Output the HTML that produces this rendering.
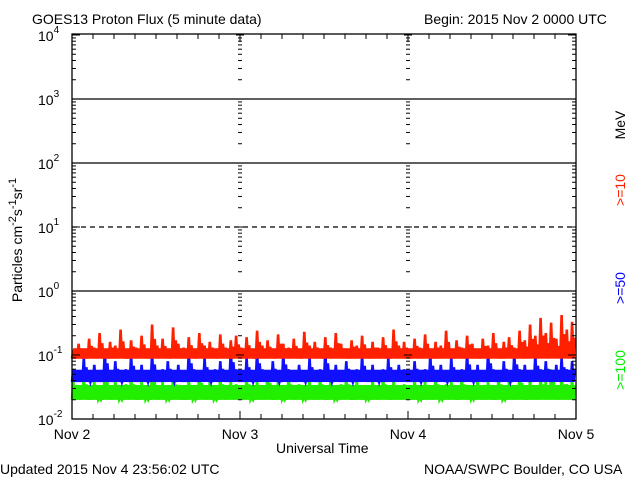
<!DOCTYPE html>
<html><head><meta charset="utf-8"><style>
body{margin:0;background:#fff}
svg{display:block}
text{font-family:"Liberation Sans",sans-serif;font-size:14px;fill:#000}
</style></head><body>
<svg id="c" width="640" height="480">
<rect width="640" height="480" fill="#fff"/>
<text x="32" y="24" font-size="15">GOES13 Proton Flux (5 minute data)</text>
<text x="424" y="24" font-size="14">Begin: 2015 Nov 2 0000 UTC</text>
<text x="0" y="474" font-size="15">Updated 2015 Nov  4 23:56:02 UTC</text>
<text x="424" y="474" font-size="14">NOAA/SWPC Boulder, CO USA</text>
<text x="276" y="453" font-size="13">Universal Time</text>
<text transform="translate(22,240) rotate(-90)" text-anchor="middle" font-size="17">Particles cm<tspan font-size="11" dy="-6">-2</tspan><tspan dy="6">s</tspan><tspan font-size="11" dy="-6">-1</tspan><tspan dy="6">sr</tspan><tspan font-size="11" dy="-6">-1</tspan></text>
<text transform="translate(625,125) rotate(-90)" text-anchor="middle" font-size="15">MeV</text>
<text transform="translate(625,190) rotate(-90)" text-anchor="middle" font-size="17" style="fill:#ff2000">&gt;=10</text>
<text transform="translate(625,288) rotate(-90)" text-anchor="middle" font-size="17" style="fill:#0000ff">&gt;=50</text>
<text transform="translate(625,370) rotate(-90)" text-anchor="middle" font-size="17" style="fill:#00ee00">&gt;=100</text>
<g id="g"></g>
</svg>
<script>
const dayLabels=["Nov 2","Nov 3","Nov 4","Nov 5"];
const decades=[-2,-1,0,1,2,3,4];
const red=[.12,.15,.11,.18,.13,.22,.12,.16,.14,.25,.11,.17,.13,.20,.12,.30,.14,.18,.12,.27,.15,.13,.19,.12,.22,.14,.16,.12,.21,.13,.17,.20,
.13,.19,.12,.24,.14,.17,.12,.21,.15,.13,.18,.12,.23,.14,.16,.12,.19,.13,.22,.15,.12,.17,.14,.20,.12,.16,.13,.19,.12,.25,.14,.16,
.12,.18,.13,.21,.12,.16,.14,.24,.12,.17,.13,.20,.15,.12,.18,.14,.22,.12,.16,.19,.13,.24,.17,.30,.20,.38,.22,.32,.18,.42,.25,.33];
const blue=[.06,.05,.09,.045,.07,.05,.12,.05,.08,.045,.06,.10,.05,.07,.045,.11,.05,.06,.08,.045,.07,.05,.12,.06,.05,.09,.045,.06,.08,.05,.13,.06,
.05,.09,.045,.12,.06,.05,.08,.045,.11,.06,.05,.07,.045,.09,.05,.06,.12,.045,.07,.05,.08,.045,.06,.10,.05,.07,.045,.06,.09,.05,.07,.06,
.05,.08,.045,.06,.10,.05,.07,.045,.09,.05,.06,.11,.045,.07,.05,.12,.06,.05,.08,.045,.11,.06,.07,.05,.10,.06,.08,.05,.07,.09,.06,.08];
const green=[.04,.03,.05,.025,.04,.022,.06,.03,.045,.022,.035,.05,.025,.04,.022,.06,.03,.04,.022,.05,.03,.025,.045,.022,.055,.03,.04,.022,.05,.03,.04,.035,
.03,.05,.022,.04,.03,.055,.025,.04,.022,.05,.03,.035,.022,.045,.03,.05,.025,.04,.022,.035,.05,.025,.04,.03,.022,.045,.03,.05,.025,.04,.03,.035,
.025,.045,.022,.04,.03,.05,.022,.035,.04,.025,.05,.03,.022,.045,.03,.04,.025,.05,.022,.04,.03,.055,.025,.045,.03,.05,.04,.06,.03,.05,.035,.045];
const baseRed=0.088, baseBlue=0.038, baseGreen=0.02;
const X0=72,X1=576,Y0=34,Y1=419;
const xs=t=>X0+(X1-X0)*t/3;
const ys=v=>Y1-64*(Math.log10(v)+2);
const NS="http://www.w3.org/2000/svg",g=document.getElementById('g');
function el(tag,a){const e=document.createElementNS(NS,tag);for(const k in a)e.setAttribute(k,a[k]);g.appendChild(e);return e;}
decades.forEach(d=>{if(d===-2||d===4)return;const y=ys(Math.pow(10,d));
const l=el('line',{x1:X0,x2:X1,y1:y,y2:y,stroke:'#000','stroke-width':1.3});
if(d===1)l.setAttribute('stroke-dasharray','5,4');


});
[[green,baseGreen,1.7,'#22ee00','series-gt100'],[blue,baseBlue,1.55,'#1010ff','series-gt50'],[red,baseRed,1.45,'#ff2000','series-gt10']].forEach(([arr,b,k,c,n])=>{
const n1=arr.length;
const band=el('rect',{x:X0+1,width:X1-X0-2,y:ys(b*k),height:ys(b)-ys(b*k),fill:c});


let p='';
arr.forEach((v,i)=>{const w=(X1-X0)/n1,x=xs(3*i/n1);
 const lo=ys(b),hi=ys(v),mid=ys(Math.sqrt(b*v)*1.1);
 p+=(i?'L':'M')+x.toFixed(1)+','+lo.toFixed(1)+'L'+(x+w*0.25).toFixed(1)+','+hi.toFixed(1)+'L'+(x+w*0.5).toFixed(1)+','+lo.toFixed(1)+'L'+(x+w*0.75).toFixed(1)+','+mid.toFixed(1);});
const s=el('path',{d:p,fill:'none',stroke:c,'stroke-width':2.6,'stroke-linejoin':'miter'});


});
const f=el('rect',{x:X0,y:Y0,width:X1-X0,height:Y1-Y0,fill:'none',stroke:'#000','stroke-width':1.3});


const tickXs=[[X0,1],[xs(1),0],[xs(2),0],[X1,-1]];
decades.forEach(d=>{
 for(let m=1;m<10;m++){if(d===4&&m>1)break;const y=ys(m*Math.pow(10,d));const L=m===1?8:4;
  tickXs.forEach(([x,dir])=>{
   const a=dir===0?{x1:x-L/2,x2:x+L/2}:{x1:x,x2:x+dir*L};
   const t=el('line',Object.assign(a,{y1:y,y2:y,stroke:'#000','stroke-width':1}));
   
   
  });
 }
 const lab=el('text',{x:X0-34,y:ys(Math.pow(10,d))+6,'font-size':16});
 lab.innerHTML='10<tspan font-size="10" dy="-8">'+d+'</tspan>';
 
 
});
for(let h=0;h<=72;h+=3){const x=xs(h/24);const L=h%24===0?8:5;
 [[Y0,L],[Y1,-L]].forEach(([y,dl])=>{const t=el('line',{x1:x,x2:x,y1:y,y2:y+dl,stroke:'#000','stroke-width':1});
 
 });
}
dayLabels.forEach((s,i)=>{const t=el('text',{x:xs(i),y:439,'text-anchor':'middle','font-size':14});t.textContent=s;

});
</script>
</body></html>
